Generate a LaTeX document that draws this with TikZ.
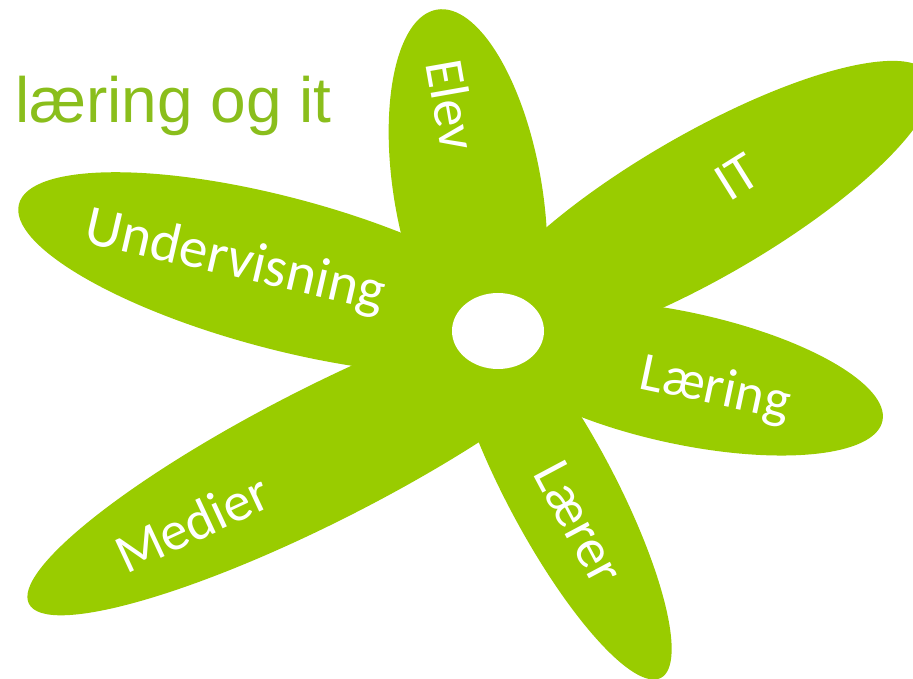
\documentclass[tikz,border=0pt]{standalone}
\usepackage{fontspec}
\newfontfamily\labfont{Carlito}
\newfontfamily\titlefont{Liberation Sans}
\definecolor{petalgreen}{RGB}{153,204,0}
\definecolor{titlegreen}{RGB}{138,190,28}
\tikzset{
  petal/.style={fill=petalgreen},
  petallabel/.style={text=white, inner sep=0pt, font=\labfont\fontsize{55}{55}\selectfont},
}
\begin{document}
\begin{tikzpicture}[x=1pt,y=1pt]
\useasboundingbox (0,0) rectangle (913,679);
\begin{scope}
\clip (0,0) rectangle (913,679);
% petals (rotated ellipses)
\fill[petal, rotate around={99.7:(468,487)}] (468,487) ellipse [x radius=185pt, y radius=74pt];
\fill[petal, rotate around={30:(703,473)}] (703,473) ellipse [x radius=262pt, y radius=72pt];
\fill[petal, rotate around={-12.1:(682,301)}] (682,301) ellipse [x radius=205pt, y radius=66pt];
\fill[petal, rotate around={-62:(560,191)}] (560,191) ellipse [x radius=215pt, y radius=54pt];
\fill[petal, rotate around={207:(323,225)}] (323,225) ellipse [x radius=330pt, y radius=67pt];
\fill[petal, rotate around={165.2:(280,406)}] (280,406) ellipse [x radius=270pt, y radius=76pt];
\fill[petal] (498,348) circle [radius=95pt];
\end{scope}
% white centre
\fill[white] (498,348) ellipse [x radius=46pt, y radius=38pt];
% labels
\node[petallabel, rotate=-80] (elev) at (452,574) {Elev};
\node[petallabel, rotate=32] (it) at (737,502) {IT};
\node[petallabel, rotate=-12] (laering) at (715,289) {Læring};
\node[petallabel, rotate=-62] (laerer) at (579,156) {Lærer};
\node[petallabel, rotate=25] (medier) at (192,156) {Medier};
\node[petallabel, rotate=-13, font=\labfont\fontsize{57}{57}\selectfont] (underv) at (235,417) {Undervisning};
% title
\node[anchor=base west, inner sep=0pt, text=titlegreen, font=\titlefont\fontsize{64}{64}\selectfont] (title) at (15,556) {læring og it};
\end{tikzpicture}
\end{document}
